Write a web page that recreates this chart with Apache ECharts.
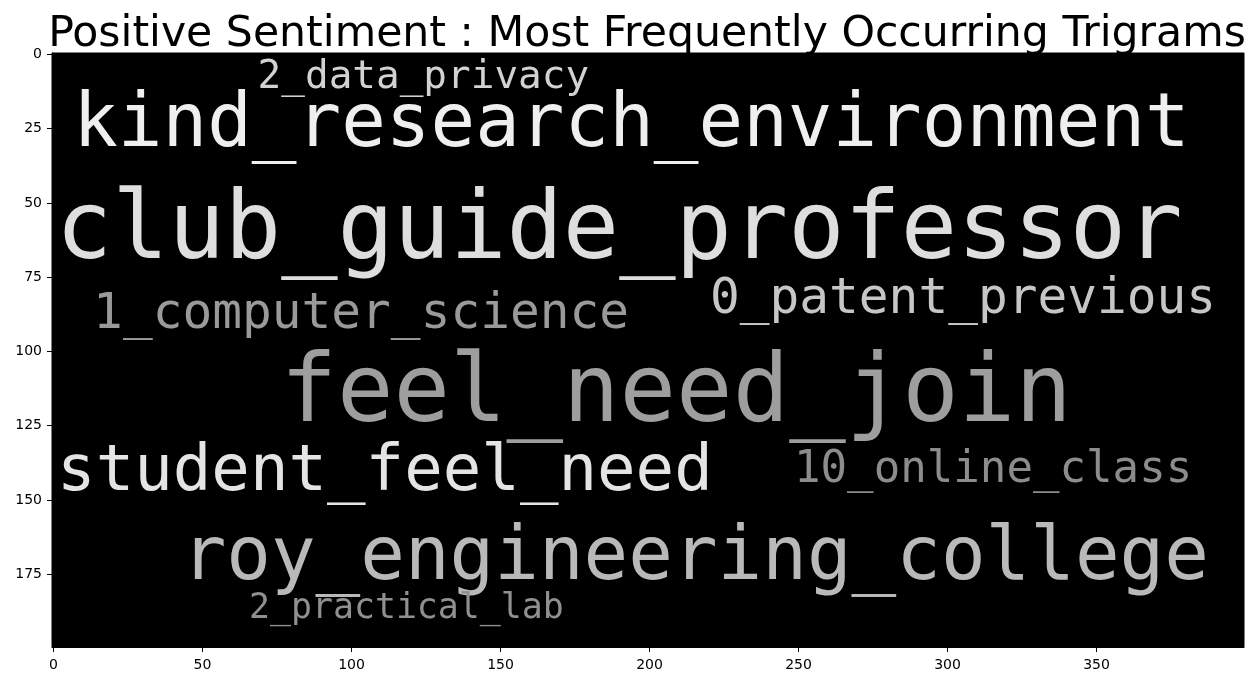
<!DOCTYPE html>
<html>
<head>
<meta charset="utf-8">
<script src="https://cdn.jsdelivr.net/npm/echarts@6/dist/echarts.min.js"></script>
<style>
  html, body { margin: 0; padding: 0; background: #fff; }
  #chart { width: 1255px; height: 686px; }
</style>
</head>
<body>
<div id="chart"></div>
<script>
// ---- data (image pixel coordinates of the 400x200 word cloud) ----
const words = [
  '2_data_privacy',
  'kind_research_environment',
  'club_guide_professor',
  '1_computer_science',
  '0_patent_previous',
  'feel_need_join',
  'student_feel_need',
  '10_online_class',
  'roy_engineering_college',
  '2_practical_lab'
];
const wordLeft     = [68.5, 6.6, 0.8, 13.3, 220.3, 76.2, 1.2, 248.5, 43.0, 65.6];
const wordBaseline = [12.5, 32.8, 71.1, 93.4, 88.6, 126.0, 148.4, 145.2, 178.8, 190.6];
const wordFontSize = [13.2, 24.9, 31.4, 16.6, 16.6, 31.5, 21.5, 14.8, 24.9, 11.7];
const xTicks = [0, 50, 100, 150, 200, 250, 300, 350];
const yTicks = [0, 25, 50, 75, 100, 125, 150, 175];
const titleText = 'Positive Sentiment : Most Frequently Occurring Trigrams';

// ---- styles ----
const wordColors = ['#d2d2d2', '#efefef', '#dedede', '#9a9a9a', '#c6c6c6',
                    '#9e9e9e', '#e4e4e4', '#8c8c8c', '#b9b9b9', '#909090'];

const seriesData = words.map((w, i) => [wordLeft[i], wordBaseline[i], wordFontSize[i], i]);

const chart = echarts.init(document.getElementById('chart'), null, { renderer: 'canvas' });
const tickFont = { fontFamily: 'DejaVu Sans', fontSize: 14, color: '#000' };

chart.setOption({
  animation: false,
  backgroundColor: '#fff',
  title: {
    text: titleText,
    left: 647,
    textAlign: 'center',
    top: 13,
    padding: 0,
    textStyle: { fontFamily: 'DejaVu Sans', fontSize: 42.6, fontWeight: 'normal', color: '#000' }
  },
  grid: {
    left: 52, right: 11, top: 53, bottom: 39,
    show: true, backgroundColor: '#000', borderColor: '#000', borderWidth: 1,
    containLabel: false
  },
  xAxis: {
    type: 'value', min: -0.5, max: 399.5,
    axisLine: { show: true, onZero: false, lineStyle: { color: '#000', width: 1 } },
    axisTick: { show: true, length: 5, customValues: xTicks, lineStyle: { color: '#000' } },
    axisLabel: Object.assign({ customValues: xTicks, margin: 11 }, tickFont),
    splitLine: { show: false }
  },
  yAxis: {
    type: 'value', min: -0.5, max: 199.5, inverse: true,
    axisLine: { show: true, onZero: false, lineStyle: { color: '#000', width: 1 } },
    axisTick: { show: true, length: 5, customValues: yTicks, lineStyle: { color: '#000' } },
    axisLabel: Object.assign({ customValues: yTicks, margin: 10 }, tickFont),
    splitLine: { show: false }
  },
  series: [{
    type: 'custom',
    data: seriesData,
    encode: { x: 0, y: 1 },
    renderItem: function (params, api) {
      const idx = api.value(3);
      const fsUnits = api.value(2);
      const fs = api.size([fsUnits, 0])[0];
      const pt = api.coord([api.value(0), api.value(1) - 0.346 * fsUnits]);
      return {
        type: 'text',
        x: pt[0], y: pt[1],
        style: {
          text: words[idx],
          fontFamily: 'DejaVu Sans Mono',
          fontSize: fs,
          fill: wordColors[idx],
          textAlign: 'left',
          textVerticalAlign: 'middle'
        }
      };
    }
  }]
});
</script>
</body>
</html>
